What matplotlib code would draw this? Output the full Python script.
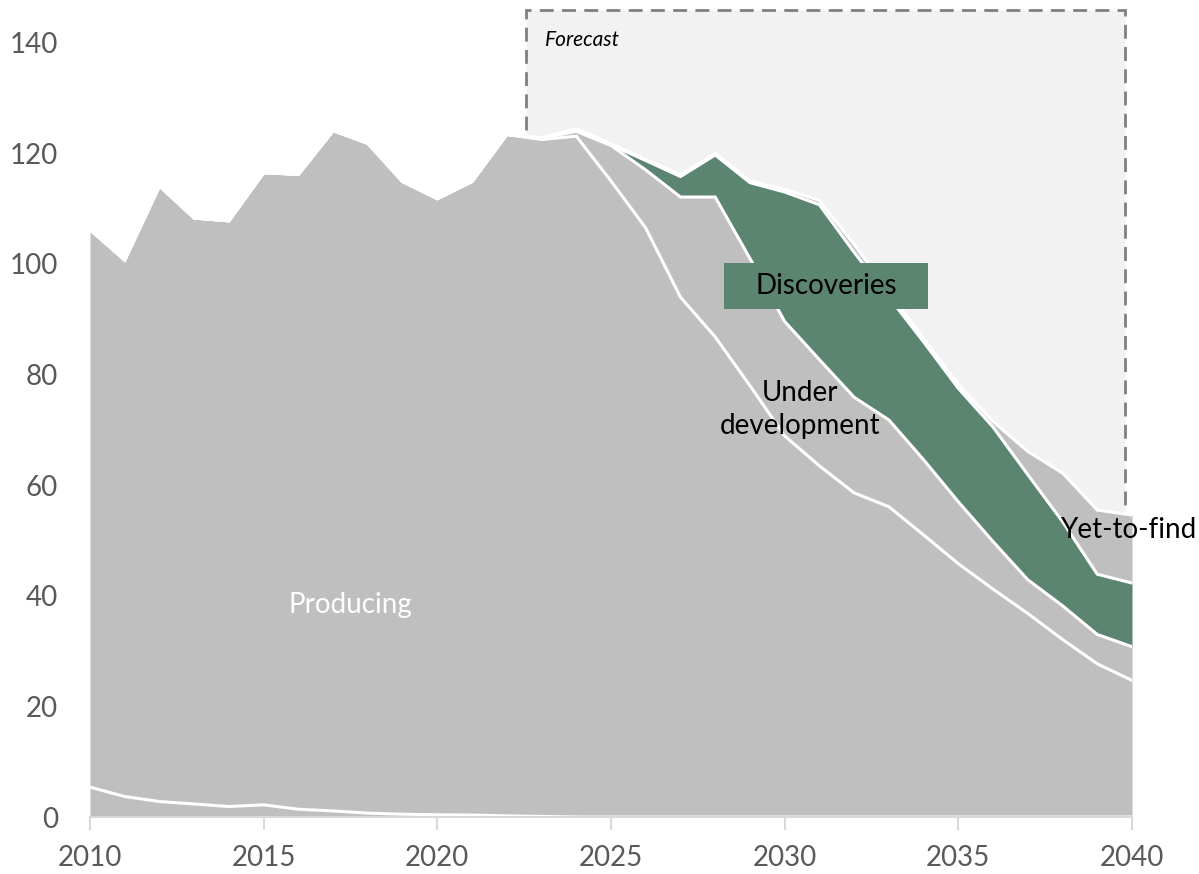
import numpy as np
import matplotlib.pyplot as plt
from matplotlib.patches import Rectangle

plt.rcParams['font.family'] = ['Lato', 'DejaVu Sans']

years = np.arange(2010, 2041)

# boundary lines of the stacked areas (cumulative tops)
shut_in = [5.4, 3.7, 2.8, 2.35, 1.9, 2.2, 1.4, 1.1, 0.7, 0.5, 0.4, 0.35, 0.2, 0.1, 0.0,
           0, 0, 0, 0, 0, 0, 0, 0, 0, 0, 0, 0, 0, 0, 0, 0]
producing = [106.2, 100.7, 114.1, 108.3, 107.8, 116.5, 116.2, 124.1, 121.8, 114.9,
             111.8, 114.9, 123.4, 122.5, 123.1, 115.0, 106.5, 94.0, 86.8, 78.0,
             68.9, 63.5, 58.6, 56.1, 51.0, 45.8, 41.2, 36.8, 32.1, 27.7, 24.7]
under_dev = [106.2, 100.7, 114.1, 108.3, 107.8, 116.5, 116.2, 124.1, 121.8, 114.9,
             111.8, 114.9, 123.4, 122.7, 124.0, 121.4, 117.0, 112.1, 112.1, 101.0,
             89.6, 82.7, 75.9, 71.8, 64.6, 57.0, 49.8, 42.9, 38.2, 33.0, 30.8]
discoveries = [106.2, 100.7, 114.1, 108.3, 107.8, 116.5, 116.2, 124.1, 121.8, 114.9,
               111.8, 114.9, 123.4, 122.7, 124.2, 121.5, 118.7, 115.8, 119.7, 114.7,
               113.0, 110.7, 102.1, 94.0, 85.9, 77.5, 70.5, 61.9, 53.4, 43.9, 42.3]
yet_to_find = [106.2, 100.7, 114.1, 108.3, 107.8, 116.5, 116.2, 124.1, 121.8, 114.9,
               111.8, 114.9, 123.4, 122.8, 124.5, 121.7, 118.9, 116.1, 120.0, 115.0,
               113.5, 111.5, 103.5, 95.0, 86.5, 78.2, 71.5, 66.1, 62.2, 55.5, 54.6]

grey = '#bfbfbf'
green = '#5b8570'

fig = plt.figure(figsize=(11.99, 8.74), dpi=100)
ax = fig.add_axes([90 / 1199, 1 - 817 / 874, (1132 - 90) / 1199, 813 / 874])

# forecast box behind the areas
ax.add_patch(Rectangle((2022.55, 0), 2039.8 - 2022.55, 146, facecolor='#f2f2f2',
                       edgecolor='#808080', lw=2, ls=(0, (5, 3)), zorder=0.5))
ax.text(2023.1, 140.5, 'Forecast', style='italic', fontsize=15, va='center', ha='left')

layers = [
    (np.zeros(len(years)), shut_in, grey),
    (shut_in, producing, grey),
    (producing, under_dev, grey),
    (under_dev, discoveries, green),
    (discoveries, yet_to_find, grey),
]
for lo, hi, c in layers:
    ax.fill_between(years, lo, hi, color=c, lw=0, zorder=2)
for line in [shut_in, producing, under_dev, discoveries, yet_to_find]:
    ax.plot(years, line, color='white', lw=2.2, zorder=3, solid_joinstyle='miter')

# labels
ax.text(2017.5, 38.3, 'Producing', color='white', fontsize=20, ha='center', va='center', zorder=5)
ax.text(2030.45, 73.7, 'Under\ndevelopment', color='black', fontsize=20, ha='center',
        va='center', linespacing=1.35, zorder=5)
ax.add_patch(Rectangle((2028.25, 91.9), 2034.13 - 2028.25, 100.2 - 91.9,
                       facecolor=green, lw=0, zorder=4))
ax.text(2031.2, 96.0, 'Discoveries', color='black', fontsize=20, ha='center', va='center', zorder=5)
ax.text(2039.9, 51.9, 'Yet-to-find', color='black', fontsize=20, ha='center', va='center', zorder=5)

ax.set_xlim(2010, 2040)
ax.set_ylim(0, 147)
ax.set_xticks(range(2010, 2041, 5))
ax.set_yticks(range(0, 141, 20))
for s in ['top', 'right', 'left']:
    ax.spines[s].set_visible(False)
ax.spines['bottom'].set_color('#d9d9d9')
ax.spines['bottom'].set_linewidth(1.5)
ax.spines['bottom'].set_zorder(6)
ax.tick_params(axis='x', length=9, width=1.5, color='#d9d9d9', labelcolor='#595959',
               labelsize=20, pad=11)
ax.tick_params(axis='y', length=0, labelcolor='#595959', labelsize=20, pad=23)
ax.patch.set_alpha(0)

fig.savefig('out.png', dpi=100)
